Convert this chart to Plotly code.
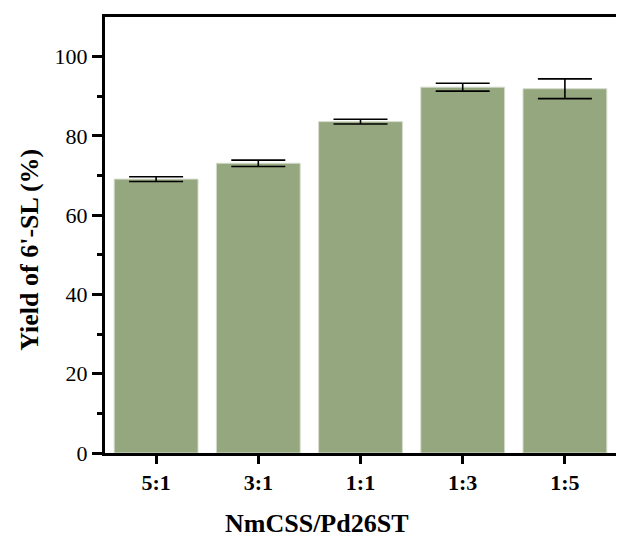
import plotly.graph_objects as go

categories = ["5:1", "3:1", "1:1", "1:3", "1:5"]
yields = [69.1, 73.1, 83.6, 92.3, 91.9]
errors = [0.6, 0.8, 0.6, 1.0, 2.5]

fig = go.Figure()
fig.add_trace(go.Bar(
    x=categories, y=yields,
    width=0.82,
    marker=dict(color="#95a77e", line=dict(color="#d4dbcb", width=1)),
    error_y=dict(type="data", array=errors, visible=True, color="black",
                 thickness=1.6, width=27),
))

font_family = "Liberation Serif"
fig.update_layout(
    width=619, height=539,
    margin=dict(l=105, r=3, t=17, b=86),
    paper_bgcolor="white", plot_bgcolor="white",
    showlegend=False,
    font=dict(family=font_family, color="black"),
    annotations=[
        dict(text="<b>Yield of 6'-SL (%)</b>", xref="paper", yref="paper",
             x=-0.147, y=0.466, textangle=-90, showarrow=False,
             xanchor="center", yanchor="middle",
             font=dict(size=26, family=font_family, color="black")),
        dict(text="<b>NmCSS/Pd26ST</b>", xref="paper", yref="paper",
             x=0.415, y=-0.161, showarrow=False,
             xanchor="center", yanchor="middle",
             font=dict(size=26, family=font_family, color="black")),
    ],
)
fig.update_xaxes(
    type="category", range=[-0.5, 4.5], automargin=False,
    showline=True, linecolor="black", linewidth=3, mirror=True,
    ticks="outside", ticklen=8, tickwidth=3, tickcolor="black",
    tickfont=dict(size=22, family=font_family),
    tickprefix="<b>", ticksuffix="</b>",
    showgrid=False,
)
fig.update_yaxes(
    range=[0, 110], tickvals=[0, 20, 40, 60, 80, 100], automargin=False,
    showline=True, linecolor="black", linewidth=3,
    ticks="outside", ticklen=10, tickwidth=3, tickcolor="black",
    minor=dict(tickvals=[10, 30, 50, 70, 90], ticks="outside", ticklen=5, tickwidth=3, tickcolor="black"),
    tickfont=dict(size=22, family=font_family),
    tickprefix="<b>", ticksuffix="</b>",
    showgrid=False, zeroline=False,
)
fig.write_html("out.html", config={"displayModeBar": False},
               post_script="document.body.style.margin='0';")
